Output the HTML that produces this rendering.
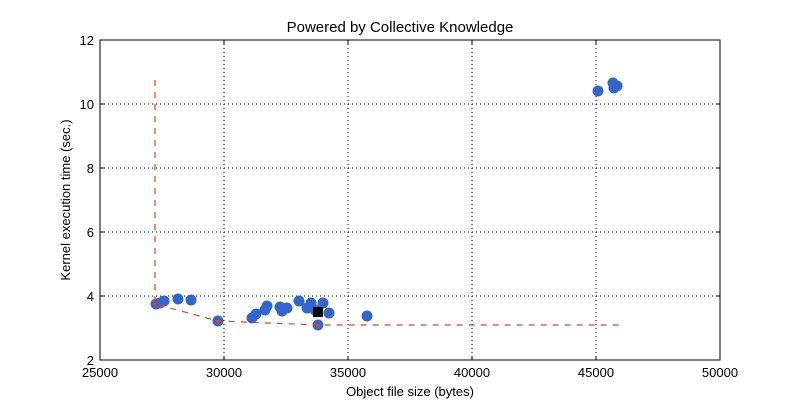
<!DOCTYPE html>
<html><head><meta charset="utf-8"><style>
body{margin:0;background:#fff}
svg text{font-family:"Liberation Sans",Arial,sans-serif;font-size:13px;fill:#000}
</style></head><body>
<svg width="800" height="400" xmlns="http://www.w3.org/2000/svg">
<rect width="800" height="400" fill="#fff"/>
<g stroke="#000" stroke-width="1" stroke-dasharray="1,3">
<line x1="224" y1="40" x2="224" y2="360"/><line x1="348" y1="40" x2="348" y2="360"/>
<line x1="472" y1="40" x2="472" y2="360"/><line x1="596" y1="40" x2="596" y2="360"/>
<line x1="100" y1="104" x2="720" y2="104"/><line x1="100" y1="168" x2="720" y2="168"/>
<line x1="100" y1="232" x2="720" y2="232"/><line x1="100" y1="296" x2="720" y2="296"/>
</g>
<g stroke="#000" stroke-width="1">
<line x1="224" y1="360" x2="224" y2="356"/><line x1="348" y1="360" x2="348" y2="356"/><line x1="472" y1="360" x2="472" y2="356"/><line x1="596" y1="360" x2="596" y2="356"/>
<line x1="224" y1="40" x2="224" y2="44"/><line x1="348" y1="40" x2="348" y2="44"/><line x1="472" y1="40" x2="472" y2="44"/><line x1="596" y1="40" x2="596" y2="44"/>
<line x1="100" y1="104" x2="104" y2="104"/><line x1="100" y1="168" x2="104" y2="168"/><line x1="100" y1="232" x2="104" y2="232"/><line x1="100" y1="296" x2="104" y2="296"/>
<line x1="720" y1="104" x2="716" y2="104"/><line x1="720" y1="168" x2="716" y2="168"/><line x1="720" y1="232" x2="716" y2="232"/><line x1="720" y1="296" x2="716" y2="296"/>
</g>
<g fill="#3366cc">
<circle cx="156" cy="304" r="5.5"/><circle cx="160" cy="303" r="5.5"/><circle cx="164" cy="301" r="5.5"/><circle cx="178" cy="299" r="5.5"/><circle cx="191" cy="300" r="5.5"/><circle cx="218" cy="321" r="5.5"/>
<circle cx="252" cy="318" r="5.5"/><circle cx="256" cy="314" r="5.5"/><circle cx="265" cy="310" r="5.5"/><circle cx="267" cy="306" r="5.5"/><circle cx="280" cy="307" r="5.5"/><circle cx="282" cy="311" r="5.5"/><circle cx="287" cy="308" r="5.5"/><circle cx="299" cy="301" r="5.5"/><circle cx="307" cy="308" r="5.5"/><circle cx="311" cy="303" r="5.5"/><circle cx="315" cy="310" r="5.5"/><circle cx="323" cy="303" r="5.5"/><circle cx="329" cy="313" r="5.5"/><circle cx="318" cy="325" r="5.5"/><circle cx="367" cy="316" r="5.5"/>
<circle cx="598" cy="91" r="5.5"/><circle cx="613" cy="83" r="5.5"/><circle cx="617" cy="86" r="5.5"/><circle cx="614" cy="88" r="5.5"/>
</g>
<polyline points="155,80 155,304 218,321 318,325 620,325" fill="none" stroke="#dd4422" stroke-width="1.2" stroke-dasharray="6,6"/>
<g fill="#dd4422"><path d="M152,303 L158,303 L155,307Z"/><path d="M215,320 L221,320 L218,324Z"/><path d="M315,324 L321,324 L318,328Z"/></g>
<rect x="313" y="307" width="10" height="10" fill="#000"/>
<rect x="100" y="40" width="620" height="320" fill="none" stroke="#000" stroke-width="1"/>
<text x="400" y="32" text-anchor="middle" style="font-size:15px">Powered by Collective Knowledge</text>
<g text-anchor="middle">
<text x="100" y="377">25000</text><text x="224" y="377">30000</text><text x="348" y="377">35000</text><text x="472" y="377">40000</text><text x="596" y="377">45000</text><text x="720" y="377">50000</text>
<text x="410" y="396">Object file size (bytes)</text>
</g>
<g text-anchor="end">
<text x="94" y="45">12</text><text x="94" y="109">10</text><text x="94" y="173">8</text><text x="94" y="237">6</text><text x="94" y="301">4</text><text x="94" y="365">2</text>
</g>
<text transform="translate(70,200) rotate(-90)" text-anchor="middle">Kernel execution time (sec.)</text>
</svg>
</body></html>
